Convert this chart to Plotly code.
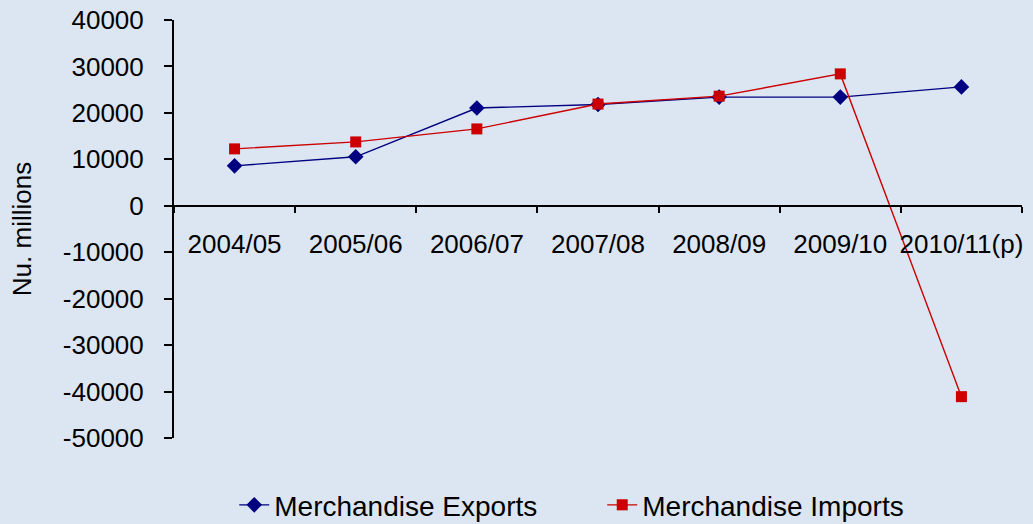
import plotly.graph_objects as go

years = ["2004/05", "2005/06", "2006/07", "2007/08", "2008/09", "2009/10", "2010/11(p)"]
exports = [8600, 10550, 21050, 21800, 23400, 23400, 25600]
imports = [12250, 13750, 16550, 21900, 23600, 28400, -41100]

y_ticks = [40000, 30000, 20000, 10000, 0, -10000, -20000, -30000, -40000, -50000]
y_tick_text = ["40000", "30000", "20000", "10000", "0", "-10000", "-20000", "-30000", "-40000", "-50000"]

y_min, y_max = -50000, 40000
bg = "#dce6f2"
font_family = "Liberation Sans, Arial, sans-serif"
fs = 26

fig = go.Figure()
fig.add_trace(go.Scatter(
    x=years, y=exports, name="Merchandise Exports", mode="lines+markers",
    line=dict(color="#000080", width=1.4),
    marker=dict(symbol="diamond", size=12, color="#000080"),
))
fig.add_trace(go.Scatter(
    x=years, y=imports, name="Merchandise Imports", mode="lines+markers",
    line=dict(color="#cc0000", width=1.4),
    marker=dict(symbol="square", size=11, color="#cc0000"),
))

zero_pos = (0 - y_min) / (y_max - y_min)

fig.update_layout(
    width=1033, height=524,
    margin=dict(l=174, r=11, t=20, b=86, autoexpand=False),
    paper_bgcolor=bg, plot_bgcolor=bg,
    font=dict(family=font_family, size=fs, color="#000000"),
    showlegend=True,
    legend=dict(
        orientation="h", x=0.505, xanchor="center",
        yref="container", y=0.036, yanchor="middle",
        font=dict(size=28), bgcolor="rgba(0,0,0,0)", itemwidth=30,
        entrywidth=323, entrywidthmode="pixels",
    ),
    xaxis=dict(
        type="category", anchor="free", position=zero_pos,
        showline=True, linecolor="#000000", linewidth=2,
        ticks="outside", ticklen=6, tickcolor="#000000", tickwidth=1.5,
        tickson="boundaries", showgrid=False, zeroline=False,
        ticklabelstandoff=15, tickfont=dict(size=fs), tickangle=0,
        range=[-0.5, 6.5],
    ),
    yaxis=dict(
        range=[y_min, y_max], tickmode="array", tickvals=y_ticks, ticktext=y_tick_text,
        showline=True, linecolor="#000000", linewidth=2,
        ticks="outside", ticklen=8, tickcolor="#000000", tickwidth=1.5,
        showgrid=False, zeroline=False, tickfont=dict(size=fs),
        ticklabelstandoff=15,
        title=dict(text="Nu. millions", font=dict(size=fs), standoff=24),
    ),
)

fig.write_html("out.html")
